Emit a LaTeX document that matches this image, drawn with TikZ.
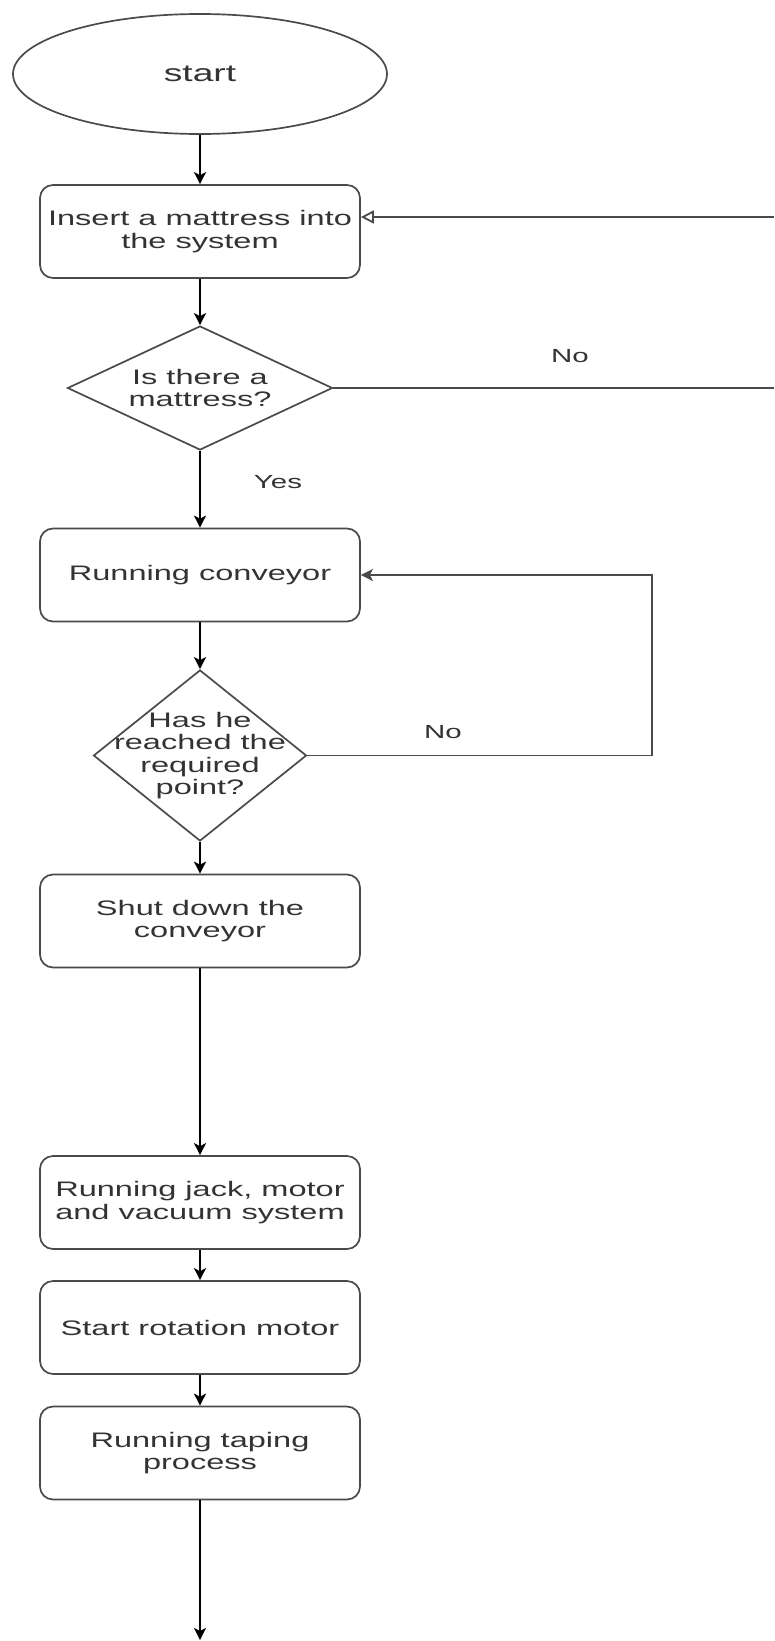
\documentclass[tikz,border=0pt]{standalone}
\usepackage{fontspec}
\setmainfont{Liberation Sans}
\newfontfamily\wideface[FakeStretch=1.55]{Liberation Sans}
\usetikzlibrary{shapes.geometric,arrows.meta}
\definecolor{ink}{HTML}{333333}
\definecolor{edge}{HTML}{4A4A4A}
\begin{document}
\begin{tikzpicture}[x=1pt,y=-1pt,
  every node/.style={font=\wideface\fontsize{21}{22.5}\selectfont, text=ink},
  terminal/.style={draw=edge, line width=1.7pt, ellipse, minimum width=374pt, minimum height=120pt, inner sep=0pt},
  procbox/.style={draw=edge, line width=1.7pt, rectangle, rounded corners=13pt,
    minimum width=320pt, minimum height=93pt, align=center, inner sep=0pt},
  decision/.style={draw=edge, line width=1.7pt, diamond, inner sep=0pt},
  qtext/.style={align=center, inner sep=0pt},
  tip/.style={-{Stealth[length=12pt,width=12pt,inset=3pt]}},
  flow/.style={draw=black, line width=1.8pt, tip},
  loopline/.style={draw=edge, line width=1.8pt},
  edgelabel/.style={font=\wideface\fontsize{19}{22}\selectfont, inner sep=0pt}]

\useasboundingbox (0,0) rectangle (774,1641);

% process steps
\node[terminal] (start) at (200,74) {\fontsize{24}{26}\selectfont start};
\node[procbox] (insert) at (200,231.5) {Insert a mattress into\\the system};
\node[decision, minimum width=265pt, minimum height=124pt] (q1) at (200,388) {};
\node[qtext] (q1text) at (q1.center) {Is there a\\mattress?};
\node[procbox] (conv) at (200,575) {Running conveyor};
\node[decision, minimum width=213pt, minimum height=171pt] (q2) at (200,755.5) {};
\node[qtext] (q2text) at (q2.center) {Has he\\reached the\\required\\point?};
\node[procbox] (stop) at (200,921) {Shut down the\\conveyor};
\node[procbox] (jack) at (200,1202.5) {Running jack, motor\\and vacuum system};
\node[procbox] (rot) at (200,1327.5) {Start rotation motor};
\node[procbox] (tape) at (200,1453) {Running taping\\process};

% branch labels
\node[edgelabel] (no1) at (570,356) {No};
\node[edgelabel] (yes1) at (278,482) {Yes};
\node[edgelabel] (no2) at (443,732) {No};

% free ends of the connectors
\coordinate (noexit) at (774,388);
\coordinate (noentry) at (774,217);
\coordinate (fb) at (652,755.5);
\coordinate (finish) at (200,1640);

% main flow
\draw[flow] (start) -- (insert);
\draw[flow] (insert) -- (q1);
\draw[flow] (q1) -- (conv);
\draw[flow] (conv) -- (q2);
\draw[flow] (q2) -- (stop);
\draw[flow] (stop) -- (jack);
\draw[flow] (jack) -- (rot);
\draw[flow] (rot) -- (tape);
\draw[flow] (tape) -- (finish);

% "No" branches
\draw[loopline] (q1.east) -- (noexit);
\draw[loopline, -{Triangle[open,length=13pt,width=13pt]}] (noentry) -- (insert.east |- noentry);
\draw[loopline, tip] (q2.east) -- (fb) |- (conv.east);
\end{tikzpicture}
\end{document}
